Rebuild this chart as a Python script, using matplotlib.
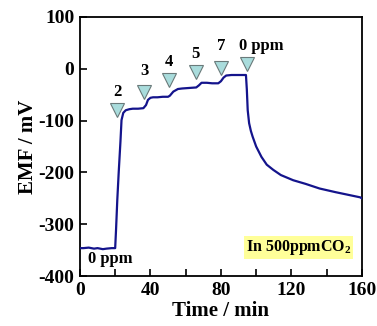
import matplotlib
matplotlib.use("Agg")
import matplotlib.pyplot as plt

plt.rcParams['font.family'] = ['Liberation Serif', 'DejaVu Serif']
plt.rcParams['font.weight'] = 'bold'
plt.rcParams['axes.unicode_minus'] = False
plt.rcParams['mathtext.fontset'] = 'custom'
plt.rcParams['mathtext.rm'] = 'Liberation Serif:bold'
plt.rcParams['mathtext.bf'] = 'Liberation Serif:bold'

# EMF response
time = [0, 2, 5, 8, 10, 13, 15, 18, 20, 20.5, 21.2, 22, 23, 23.6, 24.6, 26, 28,
        30, 33, 36, 37.5, 38.6, 40, 41.5, 44, 47, 50, 51, 53, 55.6, 58, 62, 66,
        67.5, 69, 72, 75, 78.5, 80, 81.5, 83, 86, 90, 93, 94.2, 94.7, 95.2, 96,
        97, 98, 100, 103, 106, 109.7, 114, 121, 128, 136, 145, 152, 159, 160]
emf = [-346, -346, -345, -347, -346, -348, -347, -346, -346, -310, -253, -200,
       -140, -99, -85, -80, -78, -77, -77, -76, -70, -60, -56, -55, -55, -54,
       -54, -52, -44, -39, -38, -37, -36, -32, -27, -27, -28, -28, -24, -17,
       -13, -12, -12, -12, -12, -40, -80, -105, -120, -131, -150, -170, -185,
       -195, -205, -215, -222, -231, -238, -243, -248, -250]

# gas switch markers
mark_t = [21.2, 36.5, 50.7, 65.6, 80.0, 94.6]
mark_v = [-80, -45, -22, -7, 2, 9]
mark_lab = ['2', '3', '4', '5', '7', '0 ppm']
lab_v = [-44, -4, 14, 28, 43, 43]

fig = plt.figure(figsize=(3.77, 3.26), dpi=100)
ax = fig.add_axes([0.212, 0.153, 0.748, 0.795])

ax.plot(time, emf, color='#14148c', lw=1.6, zorder=3)
ax.plot(mark_t, mark_v, ls='none', marker='v', ms=10, mfc='#a9dcdc',
        mec='#6a7a7a', mew=0.8, zorder=4)
for t, v, s in zip(mark_t, lab_v, mark_lab):
    if s == '0 ppm':
        ax.text(t - 4.2, v, s, ha='left', va='center', fontsize=12, fontweight='bold')
    else:
        ax.text(t, v, s, ha='center', va='center', fontsize=12, fontweight='bold')

ax.text(4.5, -367, '0 ppm', ha='left', va='center', fontsize=12, fontweight='bold')
ax.text(154, -345, 'In 500ppmCO$_\\mathbf{2}$', ha='right', va='center',
        fontsize=11.5, fontweight='bold',
        bbox=dict(boxstyle='square,pad=0.12', fc='#ffff99', ec='none'))

ax.set_xlim(0, 160)
ax.set_ylim(-400, 100)
ax.set_xticks([0, 40, 80, 120, 160])
ax.set_xticks([20, 60, 100, 140], minor=True)
ax.set_yticks([100, 0, -100, -200, -300, -400])
ax.tick_params(which='both', direction='in', width=1.2, labelsize=14, pad=4)
ax.tick_params(which='major', length=5)
ax.tick_params(which='minor', length=5)
for sp in ax.spines.values():
    sp.set_linewidth(1.3)

ax.set_xlabel('Time / min', fontsize=15, fontweight='bold', labelpad=2)
ax.set_ylabel('EMF / mV', fontsize=15, fontweight='bold', labelpad=0)

fig.savefig('out.png', dpi=100)
